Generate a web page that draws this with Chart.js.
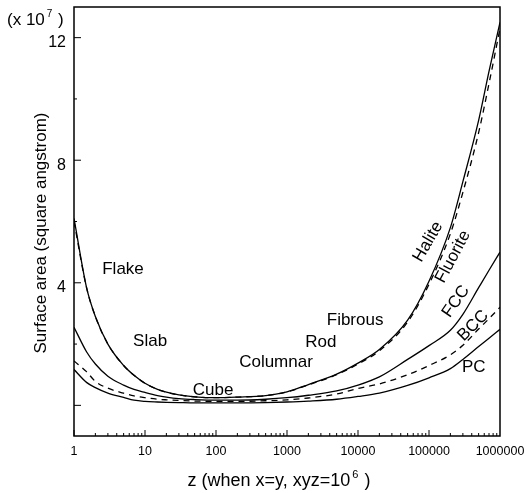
<!DOCTYPE html>
<html>
<head>
<meta charset="utf-8">
<script src="https://cdn.jsdelivr.net/npm/chart.js@4.4.0/dist/chart.umd.min.js"></script>
<style>
  html, body { margin: 0; padding: 0; background: #fff; }
  canvas { display: block; }
</style>
</head>
<body>
<canvas id="c" width="527" height="493"></canvas>
<script>
// ---- data (surface area, units of 1e7 square angstrom) ----
const zValues  = [1, 1.5, 2, 3, 5, 7, 10, 15, 20, 30, 50, 100, 200, 500, 1000, 2000, 5000, 10000, 20000, 50000, 100000, 200000, 300000, 500000, 700000, 1000000];
const halite   = [6.1, 3.85, 2.9, 2.0, 1.3, 0.98, 0.72, 0.52, 0.43, 0.34, 0.28, 0.25, 0.27, 0.32, 0.44, 0.68, 1.02, 1.38, 1.82, 2.78, 4.05, 5.8, 7.3, 9.3, 10.9, 12.5];
const fluorite = [6.0, 3.85, 2.9, 2.0, 1.3, 0.98, 0.72, 0.52, 0.43, 0.34, 0.28, 0.25, 0.27, 0.32, 0.44, 0.67, 1.0, 1.35, 1.78, 2.72, 3.95, 5.6, 6.95, 8.9, 10.5, 12.3];
const fcc      = [2.55, 1.75, 1.35, 0.95, 0.66, 0.52, 0.42, 0.32, 0.27, 0.22, 0.19, 0.17, 0.17, 0.2, 0.25, 0.33, 0.47, 0.66, 0.93, 1.5, 1.95, 2.45, 2.97, 3.84, 4.41, 5.0];
const bcc      = [1.45, 1.1, 0.78, 0.56, 0.4, 0.31, 0.25, 0.2, 0.18, 0.16, 0.14, 0.13, 0.13, 0.15, 0.18, 0.24, 0.37, 0.55, 0.7, 1.0, 1.3, 1.65, 1.96, 2.49, 2.83, 3.2];
const pc       = [1.17, 0.75, 0.58, 0.4, 0.26, 0.17, 0.13, 0.11, 0.1, 0.09, 0.08, 0.08, 0.08, 0.09, 0.11, 0.14, 0.2, 0.29, 0.4, 0.65, 0.9, 1.2, 1.5, 1.92, 2.19, 2.48];

const xTickValues = [1, 10, 100, 1000, 10000, 100000, 1000000];
const yTickValues = [4, 8, 12];

// in-plot annotations: text, z, value, rotation(deg)
const noteText = ['Flake', 'Slab', 'Cube', 'Columnar', 'Rod', 'Fibrous', 'Halite', 'Fluorite', 'FCC', 'BCC', 'PC'];
const noteZ    = [4.9, 11.8, 91, 700, 3000, 9100, 97000, 218000, 240000, 418000, 428000];
const noteV    = [4.43, 2.08, 0.49, 1.4, 2.05, 2.77, 5.34, 4.85, 3.39, 2.6, 1.24];
const noteRot  = [0, 0, 0, 0, 0, 0, -60, -62, -55, -45, 0];

const FONT = '"Liberation Sans", Arial, Helvetica, sans-serif';

function pts(vals) { return zValues.map((z, i) => ({ x: z, y: vals[i] })); }
function ds(label, vals, dashed) {
  return {
    label, data: pts(vals),
    borderColor: '#000', borderWidth: 1.3,
    borderDash: dashed ? [6, 5] : [],
    pointRadius: 0, fill: false,
    cubicInterpolationMode: 'monotone'
  };
}

const decor = {
  id: 'decor',
  afterDraw(chart) {
    const { ctx, chartArea: { left, right, top, bottom }, scales: { x, y } } = chart;
    ctx.save();
    ctx.strokeStyle = '#000';
    ctx.lineWidth = 1.5;
    ctx.strokeRect(left, top, right - left, bottom - top);
    // x ticks (inward)
    ctx.lineWidth = 1;
    for (let d = 0; d < 6; d++) {
      for (let k = 1; k <= 9; k++) {
        const px = x.getPixelForValue(k * Math.pow(10, d));
        const len = k === 1 ? 6 : 3;
        ctx.beginPath(); ctx.moveTo(px, bottom); ctx.lineTo(px, bottom - len); ctx.stroke();
      }
    }
    // y ticks (inward)
    for (let v = 0; v <= 12; v += 2) {
      const py = y.getPixelForValue(v);
      const len = v % 4 === 0 ? 7 : 3;
      ctx.beginPath(); ctx.moveTo(left, py); ctx.lineTo(left + len, py); ctx.stroke();
    }
    // annotations
    ctx.fillStyle = '#000';
    ctx.font = '17px ' + FONT;
    ctx.textAlign = 'center';
    ctx.textBaseline = 'middle';
    noteText.forEach((t, i) => {
      const px = x.getPixelForValue(noteZ[i]);
      const py = y.getPixelForValue(noteV[i]);
      ctx.save();
      ctx.translate(px, py);
      ctx.rotate(noteRot[i] * Math.PI / 180);
      ctx.fillText(t, 0, 0);
      ctx.restore();
    });
    // y title
    ctx.save();
    ctx.font = '17px ' + FONT;
    ctx.translate(41, 233);
    ctx.rotate(-Math.PI / 2);
    ctx.fillText('Surface area (square angstrom)', 0, 0);
    ctx.restore();
    // (x 10^7 )
    drawSup(ctx, '(x 10', '7', ' )', 7, 20, 17, 'left');
    // x title
    drawSup(ctx, 'z (when x=y, xyz=10', '6', ' )', 279, 481, 18, 'center');
    ctx.restore();
  }
};

function drawSup(ctx, a, s, b, xPos, yPos, size, align) {
  ctx.save();
  ctx.textBaseline = 'middle';
  ctx.textAlign = 'left';
  ctx.font = size + 'px ' + FONT;
  const wa = ctx.measureText(a).width;
  const wb = ctx.measureText(b).width;
  ctx.font = Math.round(size * 0.6) + 'px ' + FONT;
  const ws = ctx.measureText(s).width + 3;
  const total = wa + ws + wb;
  let x0 = align === 'center' ? xPos - total / 2 : xPos;
  ctx.font = size + 'px ' + FONT;
  ctx.fillText(a, x0, yPos);
  ctx.font = Math.round(size * 0.6) + 'px ' + FONT;
  ctx.fillText(s, x0 + wa + 2, yPos - size * 0.35);
  ctx.font = size + 'px ' + FONT;
  ctx.fillText(b, x0 + wa + ws, yPos);
  ctx.restore();
}

new Chart(document.getElementById('c'), {
  type: 'line',
  data: {
    datasets: [
      ds('Halite', halite, false),
      ds('Fluorite', fluorite, true),
      ds('FCC', fcc, false),
      ds('BCC', bcc, true),
      ds('PC', pc, false)
    ]
  },
  options: {
    responsive: false,
    animation: false,
    devicePixelRatio: 1,
    layout: { padding: { top: 7, right: 27, left: 0, bottom: 0 } },
    plugins: { legend: { display: false }, tooltip: { enabled: false } },
    scales: {
      x: {
        type: 'logarithmic', min: 1, max: 1000000,
        grid: { display: false, drawTicks: false },
        border: { display: false },
        afterBuildTicks: s => { s.ticks = xTickValues.map(v => ({ value: v, major: true })); },
        afterFit: s => { s.height = 57; s.paddingLeft = 0; s.paddingRight = 0; },
        ticks: {
          color: '#000', font: { family: FONT, size: 12.5 }, padding: 8,
          autoSkip: false, maxRotation: 0, minRotation: 0,
          callback: v => String(v)
        }
      },
      y: {
        type: 'linear', min: -1, max: 13,
        grid: { display: false, drawTicks: false },
        border: { display: false },
        afterBuildTicks: s => { s.ticks = yTickValues.map(v => ({ value: v })); },
        afterFit: s => { s.width = 74; s.paddingTop = 0; s.paddingBottom = 0; },
        ticks: {
          color: '#000', font: { family: FONT, size: 16 }, padding: 8, labelOffset: 5,
          callback: v => String(v)
        }
      }
    }
  },
  plugins: [decor]
});
</script>
</body>
</html>
